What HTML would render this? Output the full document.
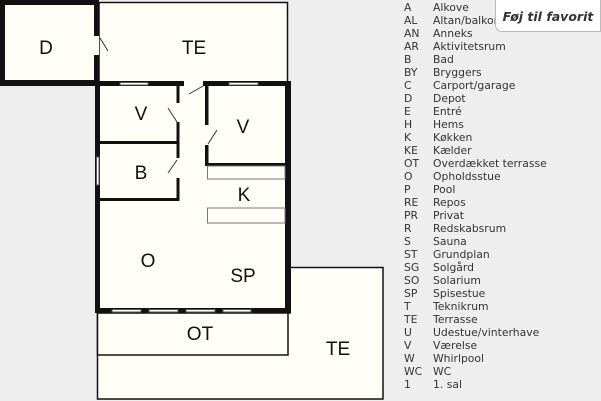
<!DOCTYPE html>
<html><head><meta charset="utf-8"><style>
html,body{margin:0;padding:0;width:601px;height:401px;overflow:hidden;background:#eeeeee;}
svg{position:absolute;left:0;top:0}
.lg{position:absolute;left:404px;top:1px;font-family:"DejaVu Sans","Liberation Sans",sans-serif;font-size:10.8px;color:#333;}
.lg div{height:13px;line-height:13px;white-space:nowrap}
.lg span{display:inline-block;width:29px}
.btn{position:absolute;left:495px;top:-2px;width:106px;height:34px;background:#fff;border:1px solid #bbb;border-radius:0 0 0 7px;box-sizing:border-box;font-family:"DejaVu Sans","Liberation Sans",sans-serif;font-weight:bold;font-style:italic;font-size:12.5px;color:#333;line-height:35px;text-align:center;white-space:nowrap}
</style></head><body>
<svg width="601" height="401" viewBox="0 0 601 401">
<g fill="#fffff8" stroke="#111" stroke-width="1.5">
<rect x="99" y="2.5" width="188.5" height="80"/>
<polygon points="290,267.5 383,267.5 383,399 97.5,399 97.5,313 290,313"/>
<rect x="97.5" y="313" width="190.5" height="42"/>
</g>
<rect x="0" y="0" width="99" height="86" fill="#fffff8"/>
<rect x="95" y="81" width="195" height="232" fill="#fffff8"/>
<g fill="#111">
<rect x="0" y="0" width="99" height="5"/>
<rect x="0" y="0" width="5" height="86"/>
<rect x="0" y="80" width="99" height="6"/>
<rect x="94" y="0" width="5" height="36"/>
<rect x="94" y="55" width="5" height="31"/>
<rect x="95" y="81" width="89" height="5"/>
<rect x="203" y="81" width="88" height="5"/>
<rect x="95" y="81" width="5" height="232"/>
<rect x="285" y="81" width="6" height="232"/>
<rect x="95" y="308" width="196" height="5"/>
<rect x="176.5" y="86" width="3" height="17"/>
<rect x="176.5" y="122" width="3" height="36"/>
<rect x="176.5" y="178" width="3" height="23"/>
<rect x="100" y="141" width="79" height="3"/>
<rect x="100" y="198" width="79" height="3"/>
<rect x="205" y="86" width="3.5" height="39"/>
<rect x="205" y="145" width="3.5" height="21"/>
<rect x="205" y="163" width="82" height="3"/>
</g>
<g fill="#fff" stroke="#555" stroke-width="1">
<rect x="120" y="82.5" width="28" height="2.5"/>
<rect x="229" y="82.5" width="29" height="2.5"/>
<rect x="112" y="309.5" width="29" height="2.5"/>
<rect x="149" y="309.5" width="29" height="2.5"/>
<rect x="186" y="309.5" width="29" height="2.5"/>
<rect x="223" y="309.5" width="28" height="2.5"/>
<rect x="96.5" y="157" width="2.5" height="28"/>
</g>
<g fill="none" stroke="#777" stroke-width="1">
<rect x="207.5" y="166" width="77.5" height="13"/>
<rect x="207.5" y="208" width="77.5" height="15"/>
</g>
<g stroke="#333" stroke-width="1">
<line x1="100" y1="38" x2="108" y2="51"/>
<line x1="189" y1="94" x2="203" y2="86"/>
<line x1="168" y1="108" x2="177" y2="122"/>
<line x1="168" y1="173" x2="177" y2="160"/>
<line x1="208" y1="144" x2="217" y2="130"/>
</g>
<g font-family="'Liberation Sans',sans-serif" font-size="19" fill="#111" text-anchor="middle">
<text x="46" y="54">D</text>
<text x="194" y="54">TE</text>
<text x="141" y="120">V</text>
<text x="243" y="133">V</text>
<text x="141" y="179">B</text>
<text x="244" y="201">K</text>
<text x="148" y="267">O</text>
<text x="243" y="282">SP</text>
<text x="200" y="340">OT</text>
<text x="338" y="355">TE</text>
</g>
</svg>
<div class="lg">
<div><span>A</span>Alkove</div>
<div><span>AL</span>Altan/balkon</div>
<div><span>AN</span>Anneks</div>
<div><span>AR</span>Aktivitetsrum</div>
<div><span>B</span>Bad</div>
<div><span>BY</span>Bryggers</div>
<div><span>C</span>Carport/garage</div>
<div><span>D</span>Depot</div>
<div><span>E</span>Entré</div>
<div><span>H</span>Hems</div>
<div><span>K</span>Køkken</div>
<div><span>KE</span>Kælder</div>
<div><span>OT</span>Overdækket terrasse</div>
<div><span>O</span>Opholdsstue</div>
<div><span>P</span>Pool</div>
<div><span>RE</span>Repos</div>
<div><span>PR</span>Privat</div>
<div><span>R</span>Redskabsrum</div>
<div><span>S</span>Sauna</div>
<div><span>ST</span>Grundplan</div>
<div><span>SG</span>Solgård</div>
<div><span>SO</span>Solarium</div>
<div><span>SP</span>Spisestue</div>
<div><span>T</span>Teknikrum</div>
<div><span>TE</span>Terrasse</div>
<div><span>U</span>Udestue/vinterhave</div>
<div><span>V</span>Værelse</div>
<div><span>W</span>Whirlpool</div>
<div><span>WC</span>WC</div>
<div><span>1</span>1. sal</div>
</div>
<div class="btn">Føj til favorit</div>
</body></html>
